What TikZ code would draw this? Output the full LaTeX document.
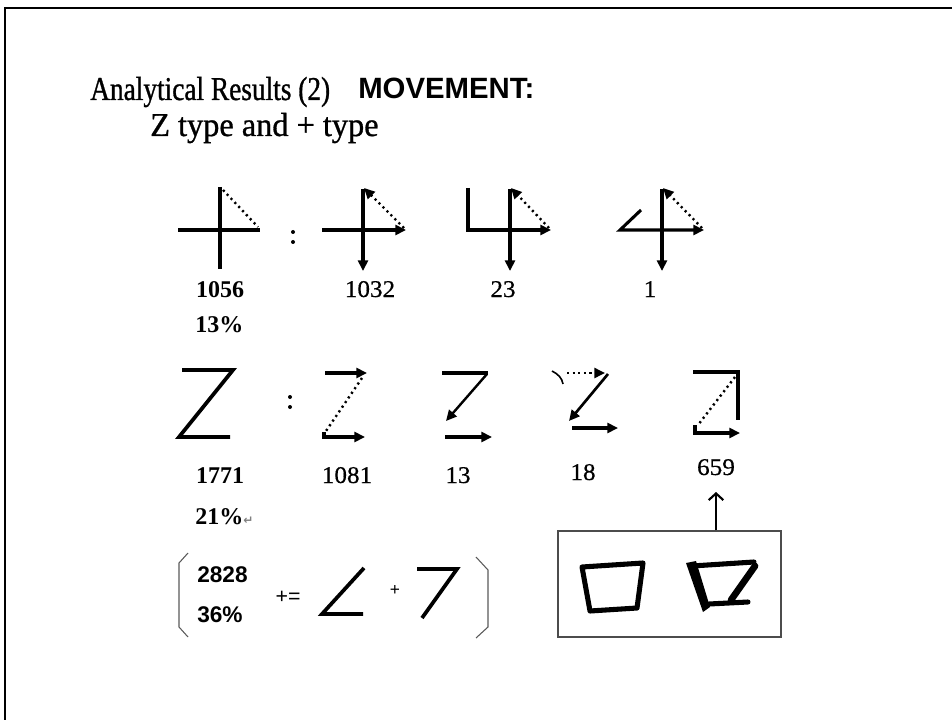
\documentclass[tikz,border=0pt]{standalone}
\usepackage{fontspec}
\setmainfont{Liberation Serif}
\setsansfont{Liberation Sans}
\newfontfamily\condserif[FakeStretch=0.82,FakeBold=0.9]{Liberation Serif}
\newfontfamily\wideserif[FakeStretch=0.97,FakeBold=0.9]{Liberation Serif}
\newfontfamily\labserif[FakeStretch=1.05,FakeBold=0.5]{Liberation Serif}
\newfontfamily\symfont{DejaVu Sans}
\usetikzlibrary{arrows.meta}
\tikzset{
  stroke/.style={line width=2.3pt},
  thickstroke/.style={line width=2.8pt, line join=miter},
  arr/.style={stroke, -{Triangle[length=8pt,width=7.5pt]}},
  dots/.style={line width=1.8pt, dash pattern=on 1.6pt off 2.6pt},
  dotarr/.style={dots, -{Triangle[length=8pt,width=7.5pt]}},
  numlab/.style={anchor=base, font=\labserif\fontsize{18}{20}\selectfont},
  boldlab/.style={anchor=base, font=\fontsize{18}{20}\selectfont\bfseries},
  pctlab/.style={anchor=base west, inner sep=0pt, font=\fontsize{18}{20}\selectfont\bfseries},
  sanslab/.style={anchor=base west, inner sep=0pt, font=\sffamily\bfseries\fontsize{17}{19}\selectfont},
  colondot/.style={fill=black},
  bracket/.style={draw=gray!70!black, line width=0.8pt},
  brush/.style={line width=3.8pt, line join=round, line cap=round}
}
\begin{document}
\begin{tikzpicture}[x=0.75pt,y=-0.75pt]
\useasboundingbox (0,0) rectangle (952,720);
% frame
\draw[line width=2.2pt] (5,720) -- (5,8) -- (952,8);

% title
\node[anchor=base west, inner sep=0pt, font=\condserif\fontsize{25}{30}\selectfont] (t1) at (90,100) {Analytical Results (2)};
\node[anchor=base west, inner sep=0pt, font=\sffamily\bfseries\fontsize{22}{26}\selectfont] (t2) at (358,99) {MOVEMENT:};
\node[anchor=base west, inner sep=0pt, font=\wideserif\fontsize{25}{30}\selectfont] (t3) at (150,136) {Z type and + type};

% ---- row 1: plus type ----
\draw[stroke] (178,230) -- (260,230);
\draw[stroke] (220,187) -- (220,269);
\draw[dots] (223,190) -- (258,227);
\fill[colondot] (293,232) circle (2);
\fill[colondot] (293,242) circle (2);

\draw[arr] (322,230) -- (406,230);
\draw[arr] (363,189) -- (363,271);
\draw[dotarr] (404,228) -- (364,188);

\draw[arr, line join=miter] (468,188) -- (468,230) -- (551,230);
\draw[arr] (510,189) -- (510,271);
\draw[dotarr] (549,228) -- (511,188);

\draw[arr, line join=miter] (641,210) -- (620,230) -- (704,230);
\draw[arr] (662,189) -- (662,271);
\draw[dotarr] (702,228) -- (663,188);

\node[boldlab] (n1056) at (220,297) {1056};
\node[pctlab] (p13) at (195,332) {13\%};
\node[numlab] (n1032) at (370,297) {1032};
\node[numlab] (n23) at (503,297) {23};
\node[numlab] (n1) at (650,297) {1};

% ---- row 2: Z type ----
\draw[thickstroke] (182,370) -- (233,370) -- (179,437) -- (230,437);
\fill[colondot] (290,397) circle (2);
\fill[colondot] (290,407) circle (2);

\draw[arr] (325,373) -- (367,373);
\draw[arr, line join=miter] (324,432) -- (324,437) -- (365,437);
\draw[dots] (362,378) -- (326,431);

\draw[stroke] (442,373) -- (488,373);
\draw[line width=1.8pt, -{Triangle[length=8pt,width=7.5pt]}] (487,374) -- (446,421);
\draw[arr] (445,437) -- (492,437);

\draw[line width=1.2pt] (552,371) .. controls (558,374) and (562,378) .. (563,384);
\draw[dotarr] (567,373) -- (605,373);
\draw[line width=2pt, -{Triangle[length=8pt,width=7.5pt]}] (608,374) -- (569,421);
\draw[arr] (572,428) -- (618,428);

\draw[stroke, line join=miter] (693,372) -- (738,372) -- (738,420);
\draw[dots] (735,377) -- (698,425);
\draw[arr, line join=miter] (695,425) -- (695,433) -- (740,433);

\node[boldlab] (n1771) at (220,483) {1771};
\node[pctlab] (p21) at (195,524) {21\%{\symfont\color{gray}\fontsize{9}{10}\selectfont ↵}};
\node[numlab] (n1081) at (347,483) {1081};
\node[numlab] (n13) at (458,483) {13};
\node[numlab] (n18) at (583,480) {18};
\node[numlab] (n659) at (716,475) {659};

% ---- row 3 ----
\draw[bracket] (188,553) -- (179,563) -- (179,627) -- (188,637);
\draw[bracket] (476,557) -- (488,570) -- (488,627) -- (476,638);
\node[sanslab] (n2828) at (197,582) {2828};
\node[sanslab] (p36) at (197,622) {36\%};
\node[font=\sffamily\fontsize{16}{18}\selectfont, inner sep=0pt] (pe) at (288,597) {+=};
\draw[thickstroke] (364,568) -- (322,614) -- (363,614);
\node[font=\sffamily\fontsize{13}{14}\selectfont, inner sep=0pt] (pl) at (395,590) {+};
\draw[thickstroke] (417,569) -- (457,569) -- (422,618);

% box with two handwritten characters
\node[draw=gray!60!black, line width=1pt, minimum width=167.25pt, minimum height=79.5pt, inner sep=0pt] (box) at (669.5,584) {};
\coordinate (tip) at (716,492);
\draw[line width=1.6pt, -{Straight Barb[length=5pt,width=11pt]}] (box.north -| tip) -- (tip);

\draw[brush] (582,567) -- (643,563) -- (637,608) -- (590,611) -- cycle;
\fill (686,563) -- (696,561) -- (710,607) -- (703,612) -- cycle;
\draw[brush] (692,566) -- (754,562);
\draw[line width=5pt, line cap=round] (755,566) -- (731,600);
\draw[brush] (709,604) -- (748,602);
\end{tikzpicture}
\end{document}
